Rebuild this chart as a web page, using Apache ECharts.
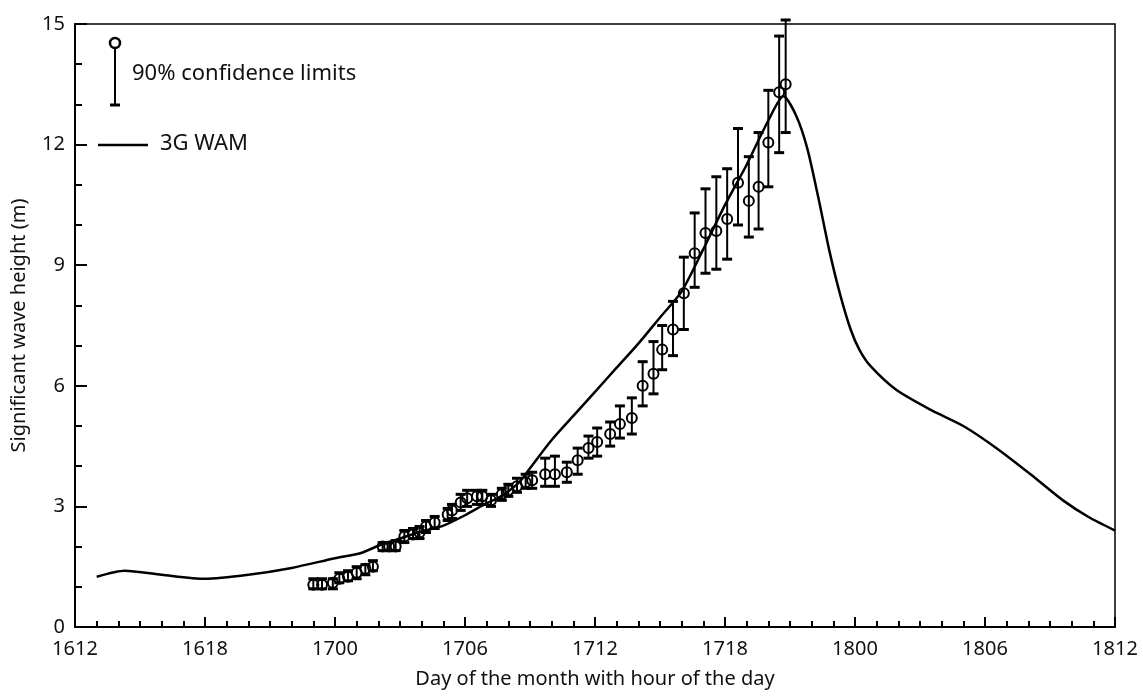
<!DOCTYPE html>
<html>
<head>
<meta charset="utf-8">
<script src="https://cdn.jsdelivr.net/npm/echarts@6/dist/echarts.min.js"></script>
<style>
  html, body { margin: 0; padding: 0; background: #fff; }
  #chart { width: 1143px; height: 697px; }
</style>
</head>
<body>
<div id="chart"></div>
<script>
// hours counted from day 16, 12:00
const xTickLabels = ['1612', '1618', '1700', '1706', '1712', '1718', '1800', '1806', '1812'];

// measured significant wave height with 90% confidence limits
const obsHours = [11.0, 11.4, 11.9, 12.2, 12.6, 13.0, 13.4, 13.75, 14.2, 14.5, 14.8, 15.2, 15.6, 15.9,
  16.2, 16.6, 17.2, 17.4, 17.8, 18.1, 18.55, 18.8, 19.2, 19.7, 20.0, 20.4, 20.8, 21.1, 21.7, 22.15,
  22.7, 23.2, 23.7, 24.1, 24.7, 25.15, 25.7, 26.2, 26.7, 27.1, 27.6, 28.1, 28.6, 29.1, 29.6, 30.1,
  30.6, 31.1, 31.55, 32.0, 32.5, 32.8];
const obsHs = [1.05, 1.05, 1.1, 1.2, 1.25, 1.35, 1.45, 1.5, 2.0, 2.0, 2.0, 2.25, 2.3, 2.35,
  2.5, 2.6, 2.8, 2.9, 3.1, 3.2, 3.25, 3.25, 3.15, 3.3, 3.4, 3.5, 3.6, 3.65, 3.8, 3.8,
  3.85, 4.15, 4.45, 4.6, 4.8, 5.05, 5.2, 6.0, 6.3, 6.9, 7.4, 8.3, 9.3, 9.8, 9.85, 10.15,
  11.05, 10.6, 10.95, 12.05, 13.3, 13.5];
const obsLow = [0.95, 0.95, 0.95, 1.1, 1.15, 1.2, 1.3, 1.4, 1.9, 1.9, 1.9, 2.1, 2.2, 2.2,
  2.35, 2.45, 2.65, 2.7, 2.9, 3.0, 3.05, 3.05, 3.0, 3.15, 3.25, 3.35, 3.45, 3.45, 3.5, 3.5,
  3.6, 3.8, 4.2, 4.25, 4.5, 4.7, 4.8, 5.5, 5.8, 6.4, 6.75, 7.4, 8.45, 8.8, 8.9, 9.15,
  10.0, 9.7, 9.9, 10.95, 11.8, 12.3];
const obsHigh = [1.2, 1.2, 1.2, 1.35, 1.4, 1.5, 1.55, 1.65, 2.1, 2.1, 2.15, 2.4, 2.45, 2.5,
  2.65, 2.75, 2.95, 3.05, 3.3, 3.4, 3.4, 3.4, 3.3, 3.45, 3.55, 3.7, 3.8, 3.85, 4.2, 4.25,
  4.1, 4.45, 4.75, 4.95, 5.1, 5.5, 5.7, 6.6, 7.1, 7.5, 8.1, 9.2, 10.3, 10.9, 11.2, 11.4,
  12.4, 11.7, 12.3, 13.35, 14.7, 15.1];

// 3G WAM hindcast
const modelHours = [1.0, 2.3, 4.0, 6.0, 8.0, 10.0, 12.0, 13.2, 14.0, 15.0, 16.0, 17.0, 18.0, 19.0,
  19.6, 20.5, 21.0, 22.0, 23.0, 24.0, 25.0, 26.0, 27.0, 28.0, 29.0, 30.0, 31.0, 32.0, 32.7,
  33.3, 33.8, 34.3, 34.8, 35.3, 35.8, 36.2, 36.7, 37.9, 39.5, 41.0, 42.5, 44.1, 45.6, 46.8, 48.0];
const modelHs = [1.25, 1.4, 1.3, 1.2, 1.3, 1.47, 1.71, 1.84, 2.02, 2.2, 2.38, 2.52, 2.78, 3.08,
  3.23, 3.6, 3.95, 4.65, 5.25, 5.85, 6.45, 7.05, 7.7, 8.35, 9.4, 10.5, 11.5, 12.6, 13.2,
  12.7, 11.9, 10.7, 9.4, 8.3, 7.4, 6.9, 6.5, 5.9, 5.4, 5.0, 4.46, 3.8, 3.15, 2.73, 2.4];

const FONT = '"Noto Sans", "Open Sans", sans-serif';

const chart = echarts.init(document.getElementById('chart'), null, {renderer: 'canvas'});

const obsData = obsHours.map((t, i) => [t, obsHs[i], obsLow[i], obsHigh[i]]);
const modelData = modelHours.map((t, i) => [t, modelHs[i]]);

function renderErrorBar(params, api) {
  const x = api.value(0);
  const c = api.coord([x, api.value(1)]);
  const lo = api.coord([x, api.value(2)]);
  const hi = api.coord([x, api.value(3)]);
  const cap = 5;
  const r = 5;
  return {
    type: 'group',
    children: [
      {type: 'line', shape: {x1: c[0], y1: hi[1], x2: c[0], y2: lo[1]}, style: {stroke: '#000', lineWidth: 2}},
      {type: 'line', shape: {x1: c[0] - cap, y1: hi[1], x2: c[0] + cap, y2: hi[1]}, style: {stroke: '#000', lineWidth: 3}},
      {type: 'line', shape: {x1: c[0] - cap, y1: lo[1], x2: c[0] + cap, y2: lo[1]}, style: {stroke: '#000', lineWidth: 3}},
      {type: 'circle', shape: {cx: c[0], cy: c[1], r: r}, style: {stroke: '#000', lineWidth: 2, fill: 'rgba(0,0,0,0)'}}
    ]
  };
}

const option = {
  animation: false,
  backgroundColor: '#fff',
  textStyle: {fontFamily: FONT, color: '#111'},
  grid: {
    left: 75, right: 28, top: 24, bottom: 70,
    show: true, borderColor: '#000', borderWidth: 1.5, backgroundColor: 'transparent'
  },
  xAxis: {
    type: 'value',
    min: 0, max: 48, interval: 6,
    name: 'Day of the month with hour of the day',
    nameLocation: 'middle',
    nameGap: 42,
    nameTextStyle: {fontSize: 20, color: '#111', fontFamily: FONT},
    axisLine: {show: true, lineStyle: {color: '#000', width: 2}},
    axisTick: {show: true, inside: true, length: 10, lineStyle: {color: '#000', width: 2}},
    minorTick: {show: true, splitNumber: 6, length: 6, lineStyle: {color: '#000', width: 2}},
    axisLabel: {
      margin: 12, fontSize: 20, color: '#111', fontFamily: FONT,
      formatter: v => xTickLabels[Math.round(v / 6)]
    },
    splitLine: {show: false}
  },
  yAxis: {
    type: 'value',
    min: 0, max: 15, interval: 3,
    name: 'Significant wave height (m)',
    nameLocation: 'middle',
    nameGap: 46,
    nameTextStyle: {fontSize: 20, color: '#111', fontFamily: FONT},
    axisLine: {show: true, lineStyle: {color: '#000', width: 2}},
    axisTick: {show: true, inside: true, length: 12, lineStyle: {color: '#000', width: 2}},
    minorTick: {show: true, splitNumber: 3, length: 7, lineStyle: {color: '#000', width: 2}},
    axisLabel: {margin: 10, fontSize: 20, color: '#111', fontFamily: FONT},
    splitLine: {show: false}
  },
  series: [
    {
      name: '3G WAM',
      type: 'line',
      data: modelData,
      showSymbol: false,
      smooth: 0.25,
      lineStyle: {color: '#000', width: 2.5},
      z: 3
    },
    {
      name: '90% confidence limits',
      type: 'custom',
      data: obsData,
      renderItem: renderErrorBar,
      clip: false,
      encode: {x: 0, y: 1},
      z: 4
    }
  ],
  graphic: [
    {type: 'circle', shape: {cx: 115, cy: 43, r: 5}, style: {stroke: '#000', lineWidth: 2.5, fill: 'rgba(0,0,0,0)'}},
    {type: 'line', shape: {x1: 115, y1: 48, x2: 115, y2: 105}, style: {stroke: '#000', lineWidth: 2}},
    {type: 'line', shape: {x1: 110, y1: 105, x2: 120, y2: 105}, style: {stroke: '#000', lineWidth: 3}},
    {type: 'text', x: 132, y: 74, style: {text: '90% confidence limits', font: '22px ' + FONT, fill: '#111', textVerticalAlign: 'middle'}},
    {type: 'line', shape: {x1: 98, y1: 145, x2: 148, y2: 145}, style: {stroke: '#000', lineWidth: 2.5}},
    {type: 'text', x: 160, y: 144, style: {text: '3G WAM', font: '22px ' + FONT, fill: '#111', textVerticalAlign: 'middle'}}
  ]
};

chart.setOption(option);
</script>
</body>
</html>
